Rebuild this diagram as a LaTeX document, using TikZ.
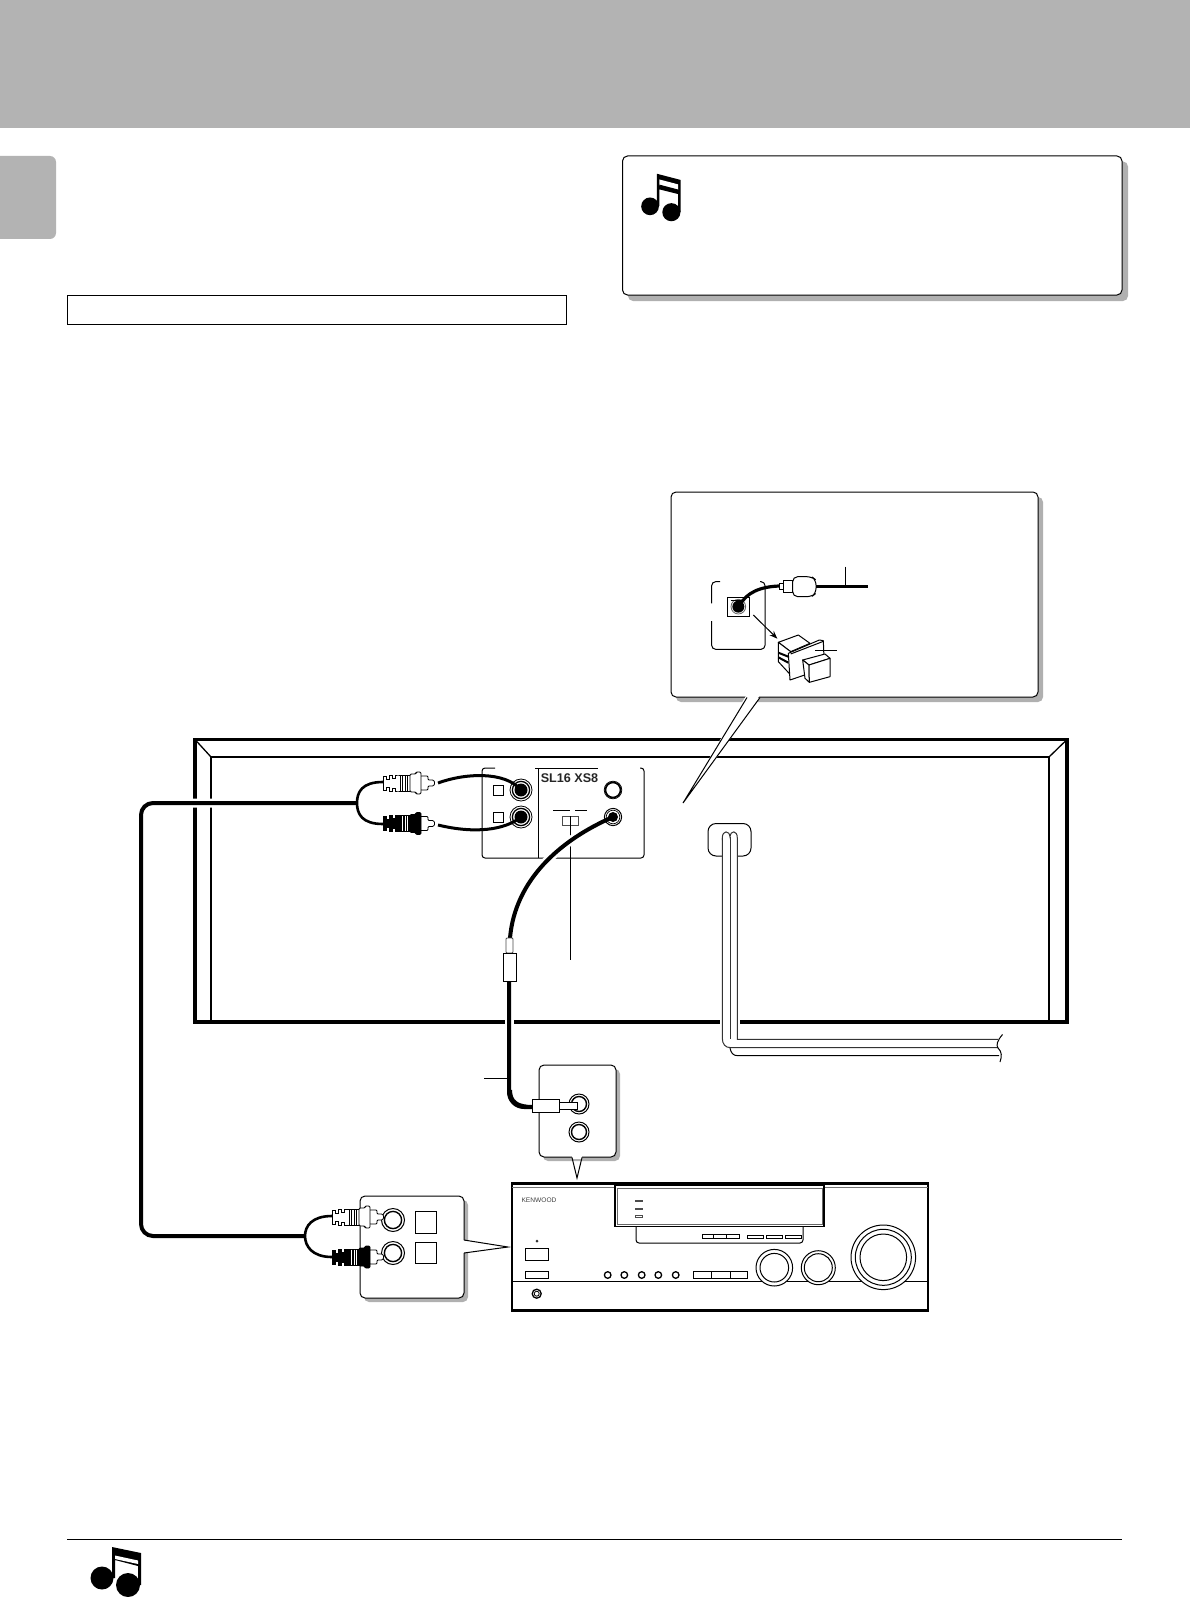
\documentclass[tikz,border=0pt]{standalone}
\usepackage{fontspec}
\setmainfont{Liberation Sans}
\usetikzlibrary{arrows.meta}
\definecolor{pagegray}{HTML}{B3B3B3}
\definecolor{shadowgray}{HTML}{B0B0B0}
\tikzset{
  ln/.style={line width=1pt,draw=black},
  hair/.style={line width=0.8pt,draw=black},
  med/.style={line width=1.3pt,draw=black},
  shade box/.style={fill=shadowgray,draw=none,rounded corners=5pt},
  call box/.style={fill=white,draw=black,line width=1pt,rounded corners=5pt},
  cable/.style={line width=4pt,draw=black},
  halo/.style={line width=9pt,draw=white},
  wire/.style={line width=2.6pt,draw=black},
  pics/rcaplug/.style 2 args={code={
    \draw[line width=0.8pt,fill=#1,draw=black]
      (0,-7)--(3,-7)--(3,-4)--(6,-4)--(6,-8)--(9,-8)--(9,-5)--(12,-5)--(12,-8)--(15,-8)--(17,-8)
      --(17,8)--(15,8)--(12,8)--(12,5)--(9,5)--(9,8)--(6,8)--(6,4)--(3,4)--(3,7)--(0,7)--cycle;
    \draw[line width=0.8pt,fill=#1,draw=black] (17,-8) rectangle (27,8);
    \draw[line width=0.8pt,draw=#2] (19.5,-7.5)--(19.5,7.5) (22,-7.5)--(22,7.5) (24.5,-7.5)--(24.5,7.5);
    \draw[line width=0.8pt,fill=white,draw=black,rounded corners=1pt] (37,-7)--(45,-7)--(45,-3)--(50.5,-3)--(52,0)--(50.5,3)--(45,3)--(45,7)--(37,7)--cycle;
    \draw[line width=0.8pt,fill=#1,draw=black,rounded corners=1.2pt] (27,-9)--(33,-9)--(33,-11)--(38,-11)--(38,11)--(33,11)--(33,9)--(27,9)--cycle;
  }},
  pics/musicnote/.style={code={
    \fill[black] (648.3,204.3) circle (8.6);
    \fill[black] (669,210) circle (8.8);
    \fill[black] (655,172.7)--(678,178.7)--(678,210)--(675.6,210)--(675.6,192.4)--(657.3,187.8)--(657.3,204)--(655,204)--cycle;
    \fill[white] (657.3,178.2)--(675.6,183)--(675.6,188.6)--(657.3,184)--cycle;
    \fill[black] (657.3,183.2)--(675.6,188)--(675.6,190)--(657.3,185.4)--cycle;
  }},
  pics/musicnotewide/.style={code={
    \fill[black] (102,1578) circle (11.5);
    \fill[black] (128,1585) circle (12);
    \fill[black] (112,1547)--(141,1553)--(141,1585)--(138,1585)--(138,1566)--(115,1560)--(115,1578)--(112,1578)--cycle;
    \fill[white] (115,1555.5)--(138,1560.5)--(138,1564)--(115,1559)--cycle;
  }},
}
\begin{document}
\begin{tikzpicture}[x=1pt,y=-1pt]
\useasboundingbox (0,0) rectangle (1190,1597);
\fill[white] (0,0) rectangle (1190,1597);
% page furniture
\fill[pagegray] (0,0) rectangle (1190,128);
\fill[pagegray,rounded corners=6pt] (-10,156) rectangle (56,239);
\draw[line width=1pt] (67.5,295.5) rectangle (566,324);
\draw[line width=1pt] (67,1539.5)--(1122,1539.5);
\pic at (0,0) {musicnotewide};
% note box
\fill[shade box] (628,161.5) rectangle (1128,301);
\draw[call box] (622.5,156) rectangle (1122,295);
\pic[scale=1.03] at (-17.7,-4.1) {musicnote};
% unit
\draw[line width=3.6pt,draw=black] (195,739.5) rectangle (1067,1022);
\draw[med] (211,1020)--(211,757)--(1049,757)--(1049,1020);
\draw[med] (195,739.5)--(211,757) (1067,739.5)--(1049,757);
% terminal panel
\draw[ln,rounded corners=3pt] (495,768)--(482,768)--(482,858)--(644,858)--(644,768)--(640,768);
\draw[ln] (535,768)--(598,768) (538,768)--(538,858);
\draw[ln] (553,810)--(570,810) (575,810)--(587,810);
\draw[hair,draw=black!70] (562,816) rectangle (578,825);
\draw[ln] (570,816)--(570,960);
\draw[hair] (493,785) rectangle (503.5,795.5) (493,812) rectangle (503.5,822.5);
\node[name=modeltext,inner sep=0pt,font=\fontsize{12.6}{13}\selectfont\bfseries,text=black!85] at (569.5,778) {SL16 XS8};
% halos
\coordinate (jackA) at (521,790);
\coordinate (jackB) at (521,817);
\coordinate (jackC) at (613,790);
\coordinate (jackD) at (613,817);
\coordinate (miniTop) at (510,938);
\coordinate (miniBot) at (509,981);
\coordinate (recvPlug) at (533,1107);
\coordinate (split) at (357,803);
\coordinate (split2) at (305,1236);
\path[halo] (jackD) .. controls (560,840) and (515,880) .. (miniTop);
\path[halo] (miniBot) -- (509,1085);
\path[halo] (split) -- (153,803) .. controls (145,803) and (141,807) .. (141,815) -- (141,1225);
% mains cord
\path[halo,line width=20pt] (730,1010)--(730,1032);
\draw[ln,fill=white,rounded corners=8pt] (722,856)--(708,856)--(708,823.5)--(751,823.5)--(751,856)--(737,856);
\draw[ln,draw=black!80] (722.3,840)--(722.3,838) .. controls (722.3,830) and (729.5,830) .. (730,837) .. controls (730.5,830) and (737.3,830) .. (737.3,838)--(737.3,1039.3)--(998,1039.3);
\draw[ln,draw=black!80] (722.3,838)--(722.3,1038) .. controls (722.3,1044) and (725,1047.7) .. (731,1047.7)--(998,1047.7);
\draw[ln,draw=black!80] (730,837)--(730,1039.3);
\draw[ln] (730,1048) .. controls (731,1053) and (733,1055.7) .. (738,1055.7)--(999,1055.7);
\draw[ln] (1002.5,1034.5) .. controls (997,1041) and (996,1045) .. (998,1048) .. controls (1002,1052) and (1002,1056) .. (1000,1062);
% jacks on panel
\foreach \j in {jackA,jackB}{
  \draw[hair] (\j) circle (11);
  \draw[med] (\j) circle (8.6);
  \fill[black] (\j) circle (6.5);
}
\draw[line width=1.6pt] (jackC) circle (7.5);
\draw[hair] (jackC) circle (8.8);
\draw[line width=1pt] (jackD) circle (8.6);
\draw[line width=0.7pt] (jackD) circle (6.8);
\fill[black] (jackD) circle (5);
% rca wires & plugs top
\pic at (383,783) {rcaplug={white}{black}};
\pic at (383,823.5) {rcaplug={black}{white}};
\coordinate (pinA) at (438,783);
\coordinate (pinB) at (438,825);
\draw[cable,line width=3pt] (pinA) .. controls (465,773) and (505,771) .. (jackA);
\draw[cable,line width=3pt] (pinB) .. controls (475,834) and (505,830) .. (jackB);
\coordinate (plugAend) at (383,782);
\coordinate (plugBend) at (383,824);
\draw[wire] (plugAend) .. controls (362,782) and (357,792) .. (split) .. controls (357,814) and (362,824) .. (plugBend);
% main cables
\coordinate (split2a) at (332,1216);
\coordinate (split2b) at (332,1257);
\draw[cable,rounded corners=12pt] (split) -- (141,803) -- (141,1236) -- (split2);
\draw[cable] (jackD) .. controls (560,840) and (515,880) .. (miniTop);
\draw[line width=0.9pt,draw=black!70,fill=white,rounded corners=1pt] (506,953) -- (506,938) -- (513,938) -- (513,953) -- cycle;
\draw[ln,fill=white] (503,953) rectangle (516,981);
\draw[cable,rounded corners=15pt] (miniBot) -- (509,1107) -- (recvPlug);
\draw[ln] (484,1078)--(507,1078);
% upper receiver callout
\fill[shade box] (543,1069) rectangle (620,1161);
\draw[call box] (539,1065) rectangle (616,1157);
\draw[fill=white,draw=none] (572,1156) rectangle (582,1158.5);
\draw[ln] (572,1157.5)--(577,1178)--(582,1157.5);
\draw[cable] (510,1090) .. controls (510,1102) and (517,1107) .. (recvPlug);
\coordinate (jackE) at (579,1104);
\coordinate (jackF) at (579,1132);
\foreach \j in {jackE,jackF}{
  \draw[ln] (\j) circle (10);
  \draw[line width=1.4pt] (\j) circle (7.5);
}
\draw[ln,fill=white] (558,1102)--(577,1102)--(577,1109)--(558,1109)--cycle;
\draw[ln,fill=white] (532,1099) rectangle (559,1112);
% lower receiver callout
\fill[shade box] (364,1200) rectangle (468,1302);
\draw[call box] (360,1196) rectangle (464,1298);
\path[fill=white] (463,1240)--(508,1247)--(463,1253)--cycle;
\draw[ln] (464,1240)--(508,1247)--(464,1253);
\coordinate (jackG) at (393,1220);
\coordinate (jackH) at (393,1253);
\foreach \j in {jackG,jackH}{
  \draw[ln] (\j) circle (11.5);
  \draw[line width=1.4pt] (\j) circle (8.6);
}
\draw[ln] (415,1211) rectangle (436,1233);
\draw[ln] (415,1242) rectangle (436,1263);
\pic at (332,1217) {rcaplug={white}{black}};
\pic at (332,1257) {rcaplug={black}{white}};
\draw[wire] (split2a) .. controls (312,1216) and (305,1226) .. (split2) .. controls (305,1246) and (312,1257) .. (split2b);
% receiver
\draw[line width=2.6pt] (512,1183.5) rectangle (928,1310.5);
\draw[ln,draw=black!55] (512,1187)--(928,1187);
\draw[ln] (512,1281)--(928,1281);
\draw[ln,fill=white,rounded corners=3pt] (636,1226)--(636,1243)--(803,1243)--(803,1226);
\draw[med,fill=white] (615,1185.5) rectangle (824,1226.5);
\draw[hair,draw=black!60] (617,1188) rectangle (822,1224.5);
\draw[hair,draw=black!70,fill=black!60] (635,1200.5) rectangle (642,1201.5);
\draw[hair,draw=black!70,fill=black!60] (635,1208) rectangle (642,1209.2);
\draw[hair,draw=black!70] (635,1215) rectangle (642,1217);
\draw[hair] (702,1234) rectangle (739.5,1238.7) (713.7,1234)--(713.7,1238.7) (726.7,1234)--(726.7,1238.7);
\draw[hair] (747.3,1235) rectangle (763.3,1238.3) (766.3,1235) rectangle (782.7,1238.3) (785.3,1235) rectangle (801.7,1238.3);
\node[name=brand,inner sep=0pt,font=\fontsize{6.6}{7}\selectfont,text=black!75] at (539,1200.5) {KENWOOD};
\fill[black!80] (537,1239.5)--(538.5,1241)--(537,1242.5)--(535.5,1241)--cycle;
\draw[ln,fill=white] (525,1248.3) rectangle (548.3,1260);
\draw[ln,fill=white] (525,1271) rectangle (548.3,1278.3);
\draw[med] (536.7,1293.7) circle (4.5);
\draw[hair] (536.7,1293.7) circle (2.5);
\foreach \x in {607.7,624.3,641.7,658.3,675.7}{\draw[line width=1.3pt,fill=white] (\x,1275) circle (3.3);}
\draw[ln,fill=white] (693.3,1271.7) rectangle (747.3,1278.3) (711,1271.7)--(711,1278.3) (730,1271.7)--(730,1278.3);
\draw[ln,fill=white] (774.3,1267.7) circle (18.3);
\draw[ln] (774.3,1267.7) circle (14.3);
\draw[ln,fill=white] (818.3,1267.7) circle (17);
\draw[ln] (818.3,1267.7) circle (14);
\draw[ln,fill=white] (883.3,1257.3) circle (32.3);
\draw[ln] (883.3,1257.3) circle (28);
\draw[ln] (883.3,1257.3) circle (23.3);
% inset callout
\fill[shade box] (676,497) rectangle (1043,702);
\fill[white] (746,696) -- (761,696) -- (684,803) -- cycle;
\draw[call box] (671,492) rectangle (1038,697);
\path[fill=white] (746.5,695)--(760,695)--(683,803)--cycle;
\draw[ln] (747,697.5)--(683,803)--(760,697.5);
\begin{scope}[shift={(660,480)},x=0.33333pt,y=-0.33333pt]
  \draw[ln,rounded corners=4pt] (155,370)--(155,305)--(180,305);
  \draw[ln,rounded corners=4pt] (300,305)--(315,305)--(315,508)--(155,508)--(155,423);
  \draw[ln] (203,352) rectangle (268,410);
  \draw[hair,draw=black!60] (235,380) circle (22);
  \draw[hair] (212,362)--(256,362);
  \fill[black] (235,380) circle (18);
  \coordinate (optJack) at (238,378);
  \coordinate (optPlug) at (358,318);
  \draw[line width=3.2pt] (optJack) .. controls (258,338) and (300,320) .. (optPlug);
  \draw[ln,fill=white] (358,310) rectangle (370,328);
  \draw[ln,fill=white] (370,300) rectangle (398,336);
  \draw[ln,fill=white,rounded corners=5pt] (398,290)--(455,290)--(468,300)--(468,340)--(455,350)--(398,350)--cycle;
  \coordinate (optEnd) at (625,319);
  \coordinate (optFrom) at (468,319);
  \draw[line width=2.8pt] (optFrom)--(optEnd);
  \draw[ln] (555,260)--(555,319);
  \coordinate (arrowA) at (280,405);
  \coordinate (arrowB) at (352,476);
  \draw[ln,-{Stealth[length=8pt,width=6pt]}] (arrowA)--(arrowB);
  % protective cap
  \draw[ln,fill=white,line join=round] (355,487)--(415,465)--(450,490)--(392,515)--cycle;
  \draw[ln,fill=white,line join=round] (355,487)--(392,515)--(392,585)--(355,545)--cycle;
  \draw[line width=2pt] (355,518)--(385,530) (355,532)--(385,548);
  \draw[ln,fill=white,line join=round] (385,520)--(478,480)--(490,482)--(493,565)--(390,600)--cycle;
  \draw[ln] (392,522)--(490,484);
  \draw[ln,fill=white,line join=round] (428,540)--(495,522)--(510,535)--(447,555)--cycle;
  \draw[ln,fill=white,line join=round] (428,540)--(447,555)--(448,607)--(435,595)--cycle;
  \draw[ln,fill=white,line join=round] (447,555)--(510,535)--(510,590)--(448,607)--cycle;
  \draw[ln] (465,510)--(530,510);
\end{scope}
\end{tikzpicture}
\end{document}
